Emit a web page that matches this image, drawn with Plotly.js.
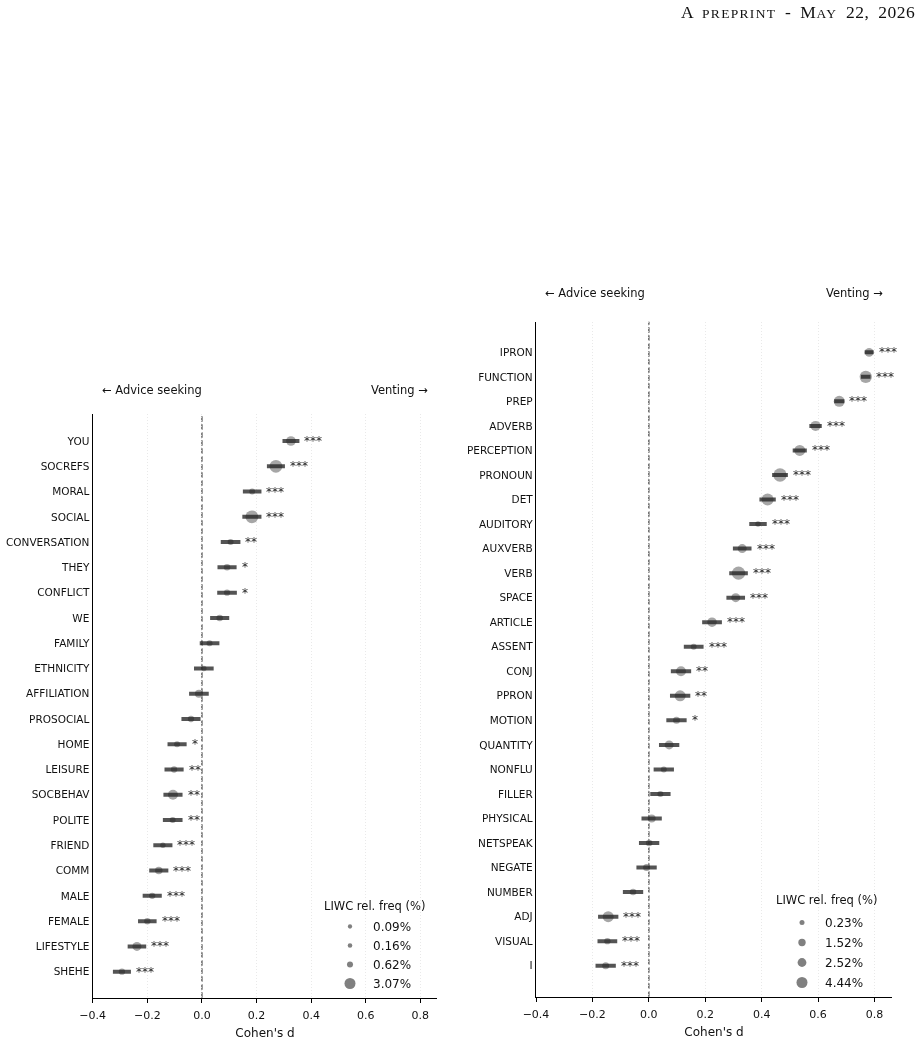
<!DOCTYPE html>
<html>
<head>
<meta charset="utf-8">
<script src="https://cdn.plot.ly/plotly-3.0.1.min.js"></script>
<style>html,body{margin:0;padding:0;background:#fff;} #chart{filter:grayscale(100%);}</style>
</head>
<body>
<div id="chart" style="width:924px;height:1043px;"></div>
<script>
// ---------- Left panel data ----------
const leftCats = ["YOU","SOCREFS","MORAL","SOCIAL","CONVERSATION","THEY","CONFLICT","WE","FAMILY","ETHNICITY","AFFILIATION","PROSOCIAL","HOME","LEISURE","SOCBEHAV","POLITE","FRIEND","COMM","MALE","FEMALE","LIFESTYLE","SHEHE"];
const leftD    = [0.326,0.271,0.184,0.183,0.105,0.092,0.092,0.065,0.028,0.007,-0.011,-0.040,-0.091,-0.102,-0.106,-0.107,-0.143,-0.158,-0.182,-0.200,-0.238,-0.293];
const leftCI   = [0.031,0.033,0.034,0.035,0.036,0.035,0.036,0.035,0.036,0.036,0.036,0.035,0.035,0.035,0.035,0.036,0.035,0.035,0.035,0.034,0.034,0.033];
const leftFreq = [2.29,4.24,0.60,4.38,0.60,0.78,0.67,0.78,0.60,0.43,1.41,0.71,0.60,0.71,2.46,0.60,0.43,1.19,0.71,0.71,1.91,0.71];
const leftSig  = ["***","***","***","***","**","*","*","","","","","","*","**","**","**","***","***","***","***","***","***"];
const leftLegend = [0.09,0.16,0.62,3.07];

// ---------- Right panel data ----------
const rightCats = ["IPRON","FUNCTION","PREP","ADVERB","PERCEPTION","PRONOUN","DET","AUDITORY","AUXVERB","VERB","SPACE","ARTICLE","ASSENT","CONJ","PPRON","MOTION","QUANTITY","NONFLU","FILLER","PHYSICAL","NETSPEAK","NEGATE","NUMBER","ADJ","VISUAL","I"];
const rightD    = [0.781,0.769,0.675,0.591,0.535,0.465,0.421,0.387,0.331,0.318,0.308,0.224,0.159,0.114,0.111,0.098,0.072,0.053,0.041,0.010,0.001,-0.008,-0.056,-0.144,-0.147,-0.153];
const rightCI   = [0.016,0.017,0.018,0.022,0.025,0.028,0.029,0.031,0.033,0.033,0.033,0.035,0.035,0.036,0.036,0.036,0.036,0.036,0.036,0.036,0.036,0.036,0.036,0.036,0.035,0.036];
const rightFreq = [2.45,5.76,4.44,3.52,4.44,6.89,5.45,0.46,2.68,6.89,2.68,3.09,0.71,3.52,4.44,1.28,2.68,0.71,0.71,1.94,0.98,1.28,0.98,4.44,0.87,1.28];
const rightSig  = ["***","***","***","***","***","***","***","***","***","***","***","***","***","**","**","*","","","","","","","","***","***","***"];
const rightLegend = [0.23,1.52,2.52,4.44];

// size scales (frequency -> marker diameter)
const sizeL = f => Math.sqrt(15.4 + 34.4 * f);
const sizeR = f => Math.sqrt(19.8 + 22.8 * f);

const MARKER = 'rgb(128,128,128)';
const BAR = 'rgba(30,30,30,0.76)';
const FONT = 'DejaVu Sans';

function panelTraces(cats, d, ci, freq, sizeFn, xa, ya, legendVals, legendId) {
  const t = [];
  t.push({type:'scatter', mode:'markers', x:d, y:cats, xaxis:xa, yaxis:ya,
    marker:{size:freq.map(sizeFn), color:MARKER, line:{width:0}},
    showlegend:false, hoverinfo:'skip'});
  t.push({type:'scatter', mode:'markers', x:d, y:cats, xaxis:xa, yaxis:ya,
    marker:{size:1, color:'rgba(0,0,0,0)'},
    error_x:{type:'data', array:ci, symmetric:true, color:BAR, thickness:4, width:0},
    showlegend:false, hoverinfo:'skip'});
  legendVals.forEach((v, i) => {
    t.push({type:'scatter', mode:'markers', x:[null], y:[null], xaxis:xa, yaxis:ya,
      marker:{size:sizeFn(v), color:MARKER}, name:v.toFixed(2)+'%',
      legend:legendId, legendgroup:legendId + 'g' + i, showlegend:true});
  });
  return t;
}

const data = [].concat(
  panelTraces(leftCats, leftD, leftCI, leftFreq, sizeL, 'x', 'y', leftLegend, 'legend'),
  panelTraces(rightCats, rightD, rightCI, rightFreq, sizeR, 'x2', 'y2', rightLegend, 'legend2')
);

function sigAnnots(cats, d, ci, sig, xr, yr) {
  return cats.map((c, i) => ({
    xref:xr, yref:yr, x:d[i] + ci[i], y:c, text:sig[i], showarrow:false,
    xanchor:'left', yanchor:'middle', xshift:3, yshift:0,
    font:{family:FONT, size:12, color:'#222'}
  })).filter(a => a.text !== '');
}

const W = 924, H = 1043;
const xCommon = {
  range:[-0.4, 0.862], tick0:-0.4, dtick:0.2, tickformat:'.1f',
  ticks:'outside', ticklen:4, tickwidth:1, tickcolor:'#000',
  showline:true, linecolor:'#000', linewidth:1.2,
  showgrid:true, gridcolor:'#e4e4e4', gridwidth:0.8, griddash:'1px,2px',
  zeroline:false, tickfont:{family:FONT, size:11, color:'#111'},
  ticklabelstandoff:3,
  title:{text:"Cohen's d", font:{family:FONT, size:12, color:'#111'}, standoff:7},
  fixedrange:true
};
const yCommon = {
  type:'category', showline:true, linecolor:'#000', linewidth:1.2,
  ticks:'', showgrid:false, zeroline:false,
  tickfont:{family:FONT, size:10.5, color:'#111'}, fixedrange:true
};

const legendTitleFont = {family:FONT, size:11.5, color:'#111'};

const layout = {
  width:W, height:H, margin:{l:0, r:0, t:0, b:0},
  paper_bgcolor:'#fff', plot_bgcolor:'rgba(0,0,0,0)',
  font:{family:FONT, size:11, color:'#111'},
  showlegend:true,
  xaxis: Object.assign({}, xCommon, {domain:[92.7/W, 437.3/W], anchor:'y'}),
  yaxis: Object.assign({}, yCommon, {domain:[45.3/H, 628.7/H], anchor:'x',
    categoryorder:'array', categoryarray:leftCats, range:[22.03, -1.057]}),
  xaxis2: Object.assign({}, xCommon, {domain:[536/W, 892/W], anchor:'y2'}),
  yaxis2: Object.assign({}, yCommon, {domain:[46.3/H, 721.3/H], anchor:'x2',
    categoryorder:'array', categoryarray:rightCats, range:[26.263, -1.247]}),
  legend:{
    x:327/W, xanchor:'left', y:(H-912)/H, yanchor:'top',
    bgcolor:'rgba(0,0,0,0)', borderwidth:0, font:{family:FONT, size:12, color:'#111'},
    itemsizing:'trace', itemwidth:36, tracegroupgap:0
  },
  legend2:{
    x:779/W, xanchor:'left', y:(H-908)/H, yanchor:'top',
    bgcolor:'rgba(0,0,0,0)', borderwidth:0, font:{family:FONT, size:12, color:'#111'},
    itemsizing:'trace', itemwidth:36, tracegroupgap:1
  },
  shapes:[
    {type:'line', xref:'x', yref:'y domain', x0:0, x1:0, y0:0, y1:1, layer:'below',
     line:{color:'#666', width:1.5, dash:'5.5px,2.5px'}},
    {type:'line', xref:'x2', yref:'y2 domain', x0:0, x1:0, y0:0, y1:1, layer:'below',
     line:{color:'#666', width:1.5, dash:'5.5px,2.5px'}}
  ],
  annotations: [].concat(
    sigAnnots(leftCats, leftD, leftCI, leftSig, 'x', 'y'),
    sigAnnots(rightCats, rightD, rightCI, rightSig, 'x2', 'y2'),
    [
      {xref:'paper', yref:'paper', x:374/W, y:(H-906)/H, xanchor:'center', yanchor:'middle',
       text:'LIWC rel. freq (%)', showarrow:false, font:legendTitleFont},
      {xref:'paper', yref:'paper', x:826.5/W, y:(H-900.5)/H, xanchor:'center', yanchor:'middle',
       text:'LIWC rel. freq (%)', showarrow:false, font:legendTitleFont},
      {xref:'paper', yref:'paper', x:100/W, y:(H-390)/H, xanchor:'left', yanchor:'middle',
       text:'← Advice seeking', showarrow:false, font:{family:FONT, size:11.5, color:'#111'}},
      {xref:'paper', yref:'paper', x:430/W, y:(H-390)/H, xanchor:'right', yanchor:'middle',
       text:'Venting →', showarrow:false, font:{family:FONT, size:11.5, color:'#111'}},
      {xref:'paper', yref:'paper', x:543/W, y:(H-293)/H, xanchor:'left', yanchor:'middle',
       text:'← Advice seeking', showarrow:false, font:{family:FONT, size:11.5, color:'#111'}},
      {xref:'paper', yref:'paper', x:885/W, y:(H-293)/H, xanchor:'right', yanchor:'middle',
       text:'Venting →', showarrow:false, font:{family:FONT, size:11.5, color:'#111'}},
      {xref:'paper', yref:'paper', x:917/W, y:(H-12)/H, xanchor:'right', yanchor:'middle',
       text:'<span style="letter-spacing:0.5px;word-spacing:4px">A <span style="font-size:13.5px;letter-spacing:1.3px">PREPRINT</span> - M<span style="font-size:13.5px;letter-spacing:1.3px">AY</span> 22, 2026</span>',
       showarrow:false, font:{family:'Liberation Serif', size:17.5, color:'#111'}}
    ]
  )
};

Plotly.newPlot('chart', data, layout, {displayModeBar:false, staticPlot:true});
</script>
</body>
</html>
